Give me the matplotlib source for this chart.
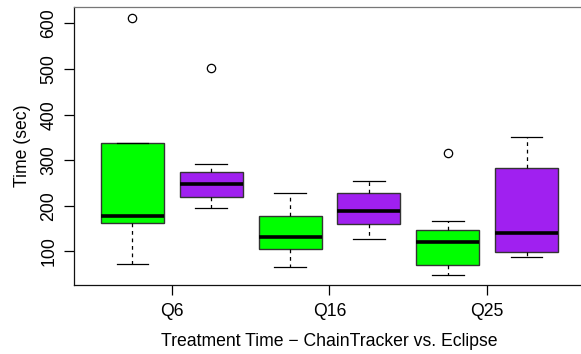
import matplotlib
matplotlib.use("Agg")
import matplotlib.pyplot as plt

plt.rcParams['font.family'] = ['Liberation Sans', 'DejaVu Sans']

groups = ["Q6", "Q16", "Q25"]
# per box: (whislo, q1, median, q3, whishi, outliers)
whislo = [72, 195, 66, 127, 49, 88]
q1 = [162, 219, 106, 160, 71, 98]
med = [178, 248, 132, 188, 121, 140]
q3 = [337, 274, 177, 229, 148, 283]
whishi = [337, 291, 229, 254, 167, 352]
fliers = [[612], [503], [], [], [315], []]
colors = ["#00FF00", "#A020F0"] * 3
yticks = [100, 200, 300, 400, 500, 600]

stats = []
for i in range(6):
    stats.append(dict(whislo=whislo[i], q1=q1[i], med=med[i], q3=q3[i],
                      whishi=whishi[i], fliers=fliers[i]))

fig = plt.figure(figsize=(5.81, 3.54), dpi=100)
W, H = 581, 354
ax = fig.add_axes([74 / W, 1 - 285 / H, (585 - 74) / W, (285 - 7.3) / H])
positions = list(range(1, 7))
bp = ax.bxp(stats, positions=positions, widths=0.8, patch_artist=True,
            showfliers=True,
            boxprops=dict(edgecolor="#333333", linewidth=1.0),
            whiskerprops=dict(linestyle=(0, (3, 3)), color="black", linewidth=0.9),
            capprops=dict(color="black", linewidth=0.9),
            medianprops=dict(color="black", linewidth=2.6, solid_capstyle="butt"),
            flierprops=dict(marker="o", markerfacecolor="none",
                            markeredgecolor="black", markersize=6,
                            markeredgewidth=0.9),
            capwidths=0.4)
for patch, c in zip(bp["boxes"], colors):
    patch.set_facecolor(c)

ax.set_xlim(0.26, 6.74)
ax.set_ylim(26.5, 635.5)
ax.set_xticks([1.5, 3.5, 5.5])
ax.set_xticklabels(groups, fontsize=12.7)
ax.set_yticks(yticks)
ax.set_yticklabels([str(v) for v in yticks], fontsize=12.7, rotation=90, va="center")
ax.tick_params(direction="out", length=7, width=0.9, pad=5)
ax.tick_params(axis="x", pad=6)
for s in ax.spines.values():
    s.set_linewidth(0.9)
    s.set_color("#111111")
ax.spines["top"].set_color("#777777")
ax.spines["right"].set_visible(False)
ax.set_xlabel("Treatment Time \u2212 ChainTracker vs. Eclipse", fontsize=12.7, labelpad=9)
ax.set_ylabel("Time (sec)", fontsize=12.7, labelpad=7)

fig.savefig("out.png", dpi=100)
